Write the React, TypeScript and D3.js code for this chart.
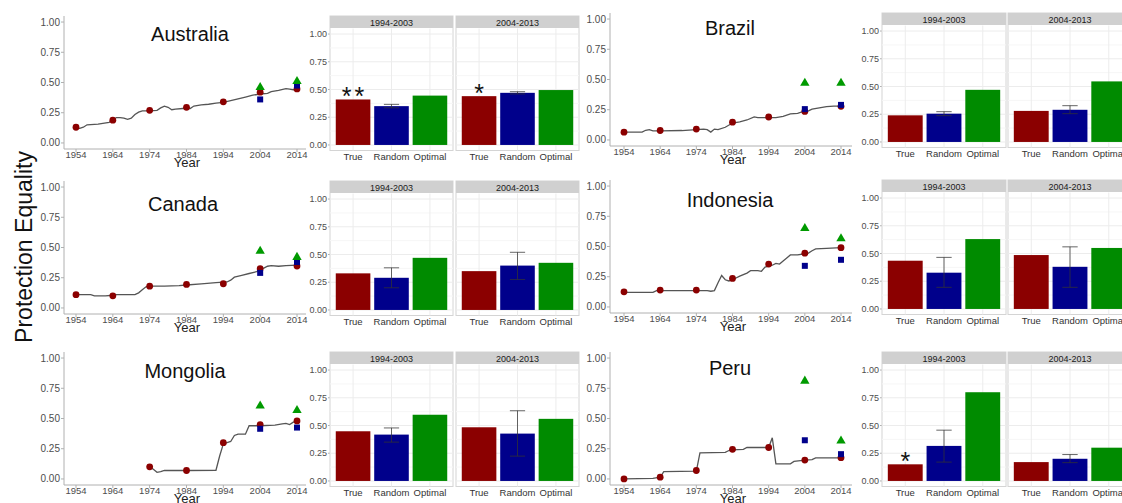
import React from 'react';
import * as d3 from 'd3';

const countries = ['Australia', 'Brazil', 'Canada', 'Indonesia', 'Mongolia', 'Peru'];
const periods = ['1994-2003', '2004-2013'];
const methods = ['True', 'Random', 'Optimal'];
const yearTicks = [1954, 1964, 1974, 1984, 1994, 2004, 2014];
const valueTicks = [0, 0.25, 0.5, 0.75, 1];
const markYears = [2004, 2014];

// protection equality over time
const australiaLine = [[1954, 0.12], [1955, 0.12], [1956, 0.13], [1957, 0.15], [1960, 0.155], [1963, 0.17], [1964, 0.19], [1965, 0.21], [1966, 0.21], [1967, 0.205], [1968, 0.195], [1969, 0.205], [1970, 0.235], [1971, 0.255], [1972, 0.265], [1974, 0.265], [1976, 0.27], [1977, 0.29], [1978, 0.305], [1979, 0.295], [1980, 0.275], [1981, 0.28], [1983, 0.285], [1985, 0.285], [1986, 0.305], [1988, 0.315], [1990, 0.32], [1992, 0.33], [1994, 0.335], [1996, 0.35], [1998, 0.365], [2000, 0.38], [2002, 0.395], [2004, 0.405], [2006, 0.41], [2007, 0.425], [2009, 0.435], [2011, 0.45], [2012, 0.445], [2013, 0.44], [2014, 0.445]];
const brazilLine = [[1954, 0.065], [1959, 0.065], [1960, 0.08], [1961, 0.085], [1962, 0.075], [1964, 0.075], [1970, 0.078], [1974, 0.085], [1976, 0.09], [1977, 0.085], [1978, 0.065], [1979, 0.09], [1980, 0.085], [1982, 0.105], [1984, 0.14], [1986, 0.15], [1988, 0.165], [1990, 0.19], [1991, 0.185], [1993, 0.185], [1996, 0.185], [1998, 0.195], [2000, 0.215], [2002, 0.22], [2003, 0.23], [2004, 0.235], [2005, 0.24], [2006, 0.255], [2008, 0.265], [2010, 0.275], [2012, 0.28], [2014, 0.28]];
const canadaLine = [[1954, 0.11], [1958, 0.11], [1959, 0.1], [1962, 0.1], [1964, 0.105], [1965, 0.11], [1970, 0.11], [1971, 0.125], [1972, 0.15], [1973, 0.175], [1974, 0.18], [1978, 0.18], [1982, 0.185], [1984, 0.19], [1988, 0.2], [1992, 0.21], [1995, 0.215], [1996, 0.23], [1997, 0.255], [1999, 0.27], [2001, 0.285], [2003, 0.3], [2004, 0.31], [2005, 0.33], [2006, 0.345], [2007, 0.35], [2009, 0.345], [2011, 0.35], [2014, 0.355]];
const indonesiaLine = [[1954, 0.12], [1962, 0.12], [1963, 0.135], [1977, 0.135], [1978, 0.13], [1979, 0.135], [1980, 0.2], [1981, 0.26], [1982, 0.225], [1983, 0.215], [1984, 0.225], [1986, 0.255], [1988, 0.28], [1989, 0.3], [1991, 0.3], [1992, 0.295], [1993, 0.33], [1995, 0.345], [1996, 0.36], [1997, 0.355], [1998, 0.38], [1999, 0.405], [2000, 0.43], [2002, 0.43], [2004, 0.44], [2005, 0.445], [2006, 0.465], [2007, 0.48], [2010, 0.485], [2014, 0.49]];
const mongoliaLine = [[1974, 0.1], [1975, 0.08], [1976, 0.055], [1977, 0.06], [1978, 0.07], [1984, 0.07], [1992, 0.072], [1993, 0.19], [1994, 0.29], [1995, 0.3], [1996, 0.31], [1997, 0.36], [1998, 0.37], [2000, 0.37], [2001, 0.44], [2004, 0.44], [2008, 0.445], [2010, 0.455], [2011, 0.46], [2012, 0.45], [2013, 0.47], [2014, 0.48]];
const peruLine = [[1954, 0.0], [1962, 0.005], [1964, 0.015], [1965, 0.06], [1974, 0.065], [1975, 0.215], [1982, 0.22], [1983, 0.235], [1984, 0.24], [1987, 0.245], [1988, 0.26], [1994, 0.26], [1995, 0.34], [1996, 0.125], [2000, 0.125], [2001, 0.145], [2004, 0.155], [2006, 0.16], [2007, 0.175], [2014, 0.175]];
const lines = [australiaLine, brazilLine, canadaLine, indonesiaLine, mongoliaLine, peruLine];

// decade points (red dots)
const dotYears = [yearTicks, yearTicks, yearTicks, yearTicks, [1974, 1984, 1994, 2004, 2014], yearTicks];
const dotValues = [
  [0.13, 0.188, 0.27, 0.295, 0.34, 0.42, 0.447],
  [0.064, 0.078, 0.09, 0.147, 0.19, 0.236, 0.278],
  [0.11, 0.1, 0.18, 0.195, 0.2, 0.325, 0.347],
  [0.125, 0.14, 0.14, 0.236, 0.355, 0.445, 0.49],
  [0.1, 0.07, 0.3, 0.45, 0.48],
  [0.0, 0.015, 0.07, 0.245, 0.26, 0.156, 0.176],
];
const randomPoints = [[0.36, 0.475], [0.255, 0.29], [0.29, 0.38], [0.34, 0.39], [0.415, 0.425], [0.32, 0.205]];
const optimalPoints = [[0.46, 0.51], [0.47, 0.47], [0.47, 0.42], [0.65, 0.565], [0.605, 0.567], [0.81, 0.315]];

// bar panels: one pair per country, [1994-2003, 2004-2013]
const trueBars = [[0.41, 0.44], [0.24, 0.28], [0.33, 0.35], [0.435, 0.486], [0.448, 0.484], [0.15, 0.17]];
const randomBars = [[0.35, 0.47], [0.255, 0.29], [0.29, 0.4], [0.327, 0.38], [0.418, 0.427], [0.316, 0.2]];
const randomLow = [[0.335, 0.46], [0.237, 0.255], [0.2, 0.275], [0.195, 0.195], [0.35, 0.224], [0.17, 0.165]];
const randomHigh = [[0.366, 0.48], [0.273, 0.327], [0.38, 0.52], [0.465, 0.56], [0.478, 0.633], [0.458, 0.238]];
const optimalBars = [[0.445, 0.495], [0.47, 0.546], [0.47, 0.425], [0.63, 0.55], [0.597, 0.56], [0.8, 0.3]];
const stars = [['**', '*'], ['', ''], ['', ''], ['', ''], ['', ''], ['*', '']];

const colors = { True: '#8b0000', Random: '#00008b', Optimal: '#008b00' };

// layout
const columns = [
  { axisL: 64, axisR: 306, x54: 76, x14: 297, barL: 330, facetW: 123, gap: 3 },
  { axisL: 610, axisR: 852, x54: 624, x14: 841, barL: 882, facetW: 124, gap: 2 },
];
const panelCol = [0, 1, 0, 1, 0, 1];
const panelDy = [0, -3, 165, 164, 336, 336];
const titleDx = [126, 120, 119, 120, 121, 120];
const titleBase = [41, 38, 46, 43, 42, 39];

const font = '"Liberation Sans", Arial, sans-serif';

function Country({ i }) {
  const c = columns[panelCol[i]];
  const dy = panelDy[i];
  const x = d3.scaleLinear().domain([1954, 2014]).range([c.x54, c.x14]);
  const y = d3.scaleLinear().domain([-0.05, 1.05]).range([149 + dy, 16 + dy]);
  const by = d3.scaleLinear().domain([-0.05, 1.05]).range([150.5 + dy, 28.5 + dy]);
  const line = d3.line().x(d => x(d[0])).y(d => y(d[1]));
  const tri = d3.symbol().type(d3.symbolTriangle).size(38)();
  const barVals = { True: trueBars[i], Random: randomBars[i], Optimal: optimalBars[i] };
  const minor = [0.125, 0.375, 0.625, 0.875];

  return (
    <g>
      {/* line panel */}
      <line x1={c.axisL} x2={c.axisL} y1={y(1.05)} y2={y(-0.05)} stroke="#b0b0b0" />
      <line x1={c.axisL} x2={c.axisR} y1={y(-0.05)} y2={y(-0.05)} stroke="#b0b0b0" />
      {valueTicks.map(v => (
        <g key={v}>
          <line x1={c.axisL - 3} x2={c.axisL} y1={y(v)} y2={y(v)} stroke="#b0b0b0" />
          <text x={c.axisL - 4} y={y(v)} dy="0.35em" textAnchor="end" fontSize={10} fill="#4d4d4d">{v.toFixed(2)}</text>
        </g>
      ))}
      {yearTicks.map(t => (
        <g key={t}>
          <line x1={x(t)} x2={x(t)} y1={y(-0.05)} y2={y(-0.05) + 3} stroke="#b0b0b0" />
          <text x={x(t)} y={y(-0.05) + 9} textAnchor="middle" fontSize={9.5} fill="#4d4d4d">{t}</text>
        </g>
      ))}
      <text x={(c.axisL + c.axisR) / 2 + 2} y={167 + dy} textAnchor="middle" fontSize={13} fill="#222">Year</text>
      <text x={c.axisL + titleDx[i]} y={titleBase[i] + dy} textAnchor="middle" fontSize={20} fill="#111">{countries[i]}</text>
      <path d={line(lines[i])} fill="none" stroke="#555" strokeWidth={1.3} />
      {dotYears[i].map((t, k) => (
        <circle key={t} cx={x(t)} cy={y(dotValues[i][k])} r={3.4} fill={colors.True} />
      ))}
      {markYears.map((t, k) => (
        <rect key={t} x={x(t) - 3} y={y(randomPoints[i][k]) - 3} width={6} height={6} fill={colors.Random} />
      ))}
      {markYears.map((t, k) => (
        <path key={t} d={tri} transform={`translate(${x(t)},${y(optimalPoints[i][k])})`} fill="#009a00" />
      ))}

      {/* bar facets */}
      {valueTicks.map(v => (
        <g key={v}>
          <line x1={c.barL - 2} x2={c.barL} y1={by(v)} y2={by(v)} stroke="#b0b0b0" />
          <text x={c.barL - 3} y={by(v)} dy="0.35em" textAnchor="end" fontSize={9} fill="#4d4d4d">{v.toFixed(2)}</text>
        </g>
      ))}
      {periods.map((p, f) => {
        const x0 = c.barL + f * (c.facetW + c.gap);
        const band = d3.scaleBand().domain(methods).range([x0, x0 + c.facetW]).paddingInner(0.1).paddingOuter(0.15);
        const bw = band.bandwidth();
        const top = 16 + dy;
        return (
          <g key={p}>
            <rect x={x0} y={top} width={c.facetW} height={by(-0.05) - top} fill="#fff" stroke="#d4d4d4" />
            {minor.map(v => (
              <line key={v} x1={x0} x2={x0 + c.facetW} y1={by(v)} y2={by(v)} stroke="#f6f6f6" />
            ))}
            {valueTicks.map(v => (
              <line key={v} x1={x0} x2={x0 + c.facetW} y1={by(v)} y2={by(v)} stroke="#ececec" />
            ))}
            {methods.map(m => (
              <line key={m} x1={band(m) + bw / 2} x2={band(m) + bw / 2} y1={by(1.05)} y2={by(-0.05)} stroke="#ececec" />
            ))}
            <rect x={x0} y={top} width={c.facetW} height={12} fill="#d0d0d0" />
            <text x={x0 + c.facetW / 2} y={top + 9.5} textAnchor="middle" fontSize={9} fill="#1a1a1a">{p}</text>
            {methods.map(m => (
              <rect key={m} x={band(m)} y={by(barVals[m][f])} width={bw} height={by(0) - by(barVals[m][f])} fill={colors[m]} />
            ))}
            <g stroke="#333" strokeOpacity={0.75} strokeWidth={1}>
              <line x1={band('Random') + bw / 2} x2={band('Random') + bw / 2} y1={by(randomLow[i][f])} y2={by(randomHigh[i][f])} />
              <line x1={band('Random') + bw * 0.28} x2={band('Random') + bw * 0.72} y1={by(randomLow[i][f])} y2={by(randomLow[i][f])} />
              <line x1={band('Random') + bw * 0.28} x2={band('Random') + bw * 0.72} y1={by(randomHigh[i][f])} y2={by(randomHigh[i][f])} />
            </g>
            {methods.map(m => (
              <text key={m} x={band(m) + bw / 2} y={by(-0.05) + 9} textAnchor="middle" fontSize={9.5} fill="#333">{m}</text>
            ))}
            {stars[i][f] && (
              <text x={band('True') + bw / 2 + 1.5} y={by(trueBars[i][f]) + 6} textAnchor="middle" fontSize={25} letterSpacing={3} fill="#111">{stars[i][f]}</text>
            )}
          </g>
        );
      })}
    </g>
  );
}

export default function App() {
  return (
    <svg width={1122} height={503} style={{ position: 'absolute', left: 0, top: 0, background: '#fff' }} fontFamily={font}>
      <rect width={1122} height={503} fill="#fff" />
      {countries.map((c, i) => <Country key={c} i={i} />)}
      <text transform="translate(24,247) rotate(-90)" textAnchor="middle" dy="0.35em" fontSize={23} fill="#111">Protection Equality</text>
    </svg>
  );
}
